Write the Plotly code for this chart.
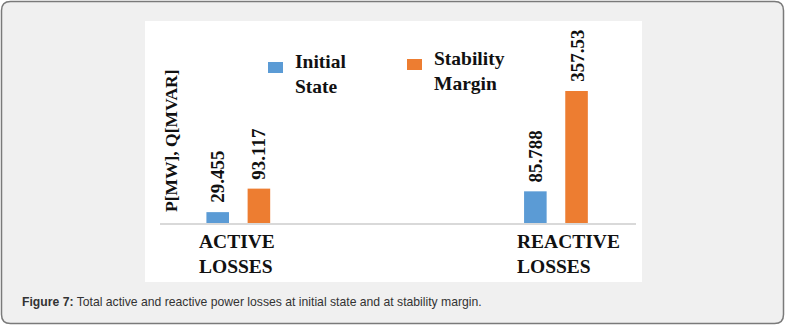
import plotly.graph_objects as go

categories = ["ACTIVE LOSSES", "REACTIVE LOSSES"]
series_names = ["Initial State", "Stability Margin"]
initial_state = [29.455, 85.788]
stability_margin = [93.117, 357.53]
series_values = [initial_state, stability_margin]
series_colors = ["#5B9BD5", "#ED7D31"]
y_title = "P[MW], Q[MVAR]"
caption_bold = "Figure 7:"
caption_text = " Total active and reactive power losses at initial state and at stability margin."

W, H = 786, 327


def px(x):
    return x / W


def py(y):
    return 1 - y / H


fig = go.Figure()
for name, vals, col in zip(series_names, series_values, series_colors):
    fig.add_trace(go.Bar(x=categories, y=vals, name=name, marker_color=col,
                         marker_line_width=0, showlegend=False, hoverinfo="skip"))

serif = "Liberation Serif"
ann = []
# data labels
offsets = [-20.8, 20.8]
for vals, off in zip(series_values, offsets):
    for c, v in zip(categories, vals):
        ann.append(dict(x=c, y=v, xref="x", yref="y", text=f"<b>{v}</b>", showarrow=False,
                        textangle=-90, xanchor="center", yanchor="bottom", xshift=off, yshift=7,
                        font=dict(family=serif, size=19, color="#111")))
# category labels (left aligned, two lines)
for c in categories:
    ann.append(dict(x=c, y=0, xref="x", yref="y", text="<b>" + "<br>".join(c.split(" ")) + "</b>",
                    showarrow=False, align="left", xanchor="left", yanchor="middle",
                    xshift=-41, yshift=-31,
                    font=dict(family=serif, size=19.5, color="#111")))
# y title
ann.append(dict(x=px(171), y=py(141), xref="paper", yref="paper", text=f"<b>{y_title}</b>",
                showarrow=False, textangle=-90, xanchor="center", yanchor="middle",
                font=dict(family=serif, size=17.5, color="#111")))
# legend
leg_sq = [(268, 62), (407, 59)]
for name, col, (lx, ly) in zip(series_names, series_colors, leg_sq):
    fig.add_shape(type="rect", xref="paper", yref="paper", x0=px(lx), x1=px(lx + 15),
                  y0=py(ly + 11), y1=py(ly), fillcolor=col, line_width=0)
    ann.append(dict(x=px(lx + 25), y=py(ly + 12), xref="paper", yref="paper",
                    text="<b>" + "<br>".join(name.split(" ")) + "</b>", showarrow=False,
                    align="left", xanchor="left", yanchor="middle",
                    font=dict(family=serif, size=19.5, color="#111")))
# caption
ann.append(dict(x=px(20), y=py(302), xref="paper", yref="paper",
                text=f"<b>{caption_bold}</b>{caption_text}", showarrow=False,
                xanchor="left", yanchor="middle",
                font=dict(family="Liberation Sans, Arial", size=12.2, color="#333")))

# outer rounded box
x0, x1, y0, y1 = 1.5, 783.5, 1.5, 323.5
r = 9
path = (f"M {px(x0 + r)},{py(y0)} L {px(x1 - r)},{py(y0)} Q {px(x1)},{py(y0)} {px(x1)},{py(y0 + r)} "
        f"L {px(x1)},{py(y1 - r)} Q {px(x1)},{py(y1)} {px(x1 - r)},{py(y1)} "
        f"L {px(x0 + r)},{py(y1)} Q {px(x0)},{py(y1)} {px(x0)},{py(y1 - r)} "
        f"L {px(x0)},{py(y0 + r)} Q {px(x0)},{py(y0)} {px(x0 + r)},{py(y0)} Z")
fig.add_shape(type="path", path=path, xref="paper", yref="paper", fillcolor="#F0F0F0",
              line=dict(color="#7a7a7a", width=1.5), layer="below")
fig.add_shape(type="rect", xref="paper", yref="paper", x0=px(145), x1=px(642), y0=py(282), y1=py(21),
              fillcolor="white", line_width=0, layer="below")

fig.update_layout(
    width=W, height=H, margin=dict(l=0, r=0, t=0, b=0),
    paper_bgcolor="white", plot_bgcolor="rgba(0,0,0,0)",
    barmode="group", bargap=0.7406, bargroupgap=0.452,
    annotations=ann,
    xaxis=dict(domain=[px(160), px(636)], range=[-0.2465, 1.252], showticklabels=False,
               ticks="", showgrid=False, zeroline=False, showline=True, linecolor="#D9D9D9",
               linewidth=1.5, fixedrange=True),
    yaxis=dict(domain=[py(223), py(30)], range=[0, (223 - 30) / (132 / 357.53)], showticklabels=False,
               ticks="", showgrid=False, zeroline=False, showline=False, fixedrange=True),
)

fig.write_html("out.html", config={"displayModeBar": False})
